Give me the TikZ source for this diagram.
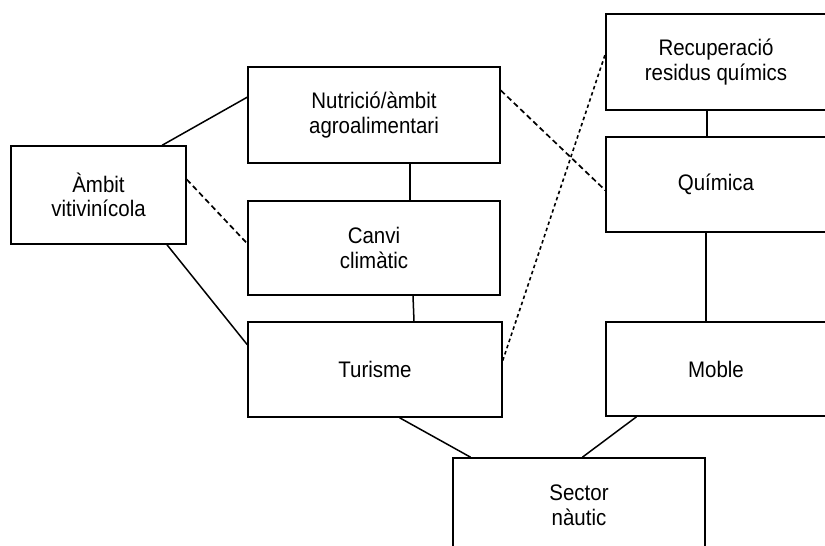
\documentclass[tikz,border=0pt]{standalone}
\usepackage{fontspec}
\setmainfont{Liberation Sans}[FakeStretch=0.91]

\begin{document}
\begin{tikzpicture}[x=1pt,y=1pt,
  box/.style={draw,line width=1.5pt,rectangle,align=center,inner sep=0pt,
    font=\fontsize{22.5}{24.5}\selectfont},
  link/.style={line width=1.5pt},
  dashlink/.style={line width=1.7pt,dash pattern=on 5.5pt off 3.5pt},
  dotlink/.style={line width=1.6pt,dash pattern=on 3.5pt off 3pt}]
        \useasboundingbox (0,0) rectangle (825,546);

        \node[box,minimum width=175pt,minimum height=98pt] (amb) at (98.5,351) {Àmbit\\vitivinícola};
        \node[box,minimum width=252pt,minimum height=96pt] (nut) at (374,431) {Nutrició/àmbit\\agroalimentari};
        \node[box,minimum width=252pt,minimum height=94pt] (can) at (374,298) {Canvi\\climàtic};
        \node[box,minimum width=254pt,minimum height=95pt] (tur) at (375,176.5) {Turisme};
        \node[box,minimum width=220pt,minimum height=96pt] (rec) at (716,484) {Recuperació\\residus químics};
        \node[box,minimum width=220pt,minimum height=95pt] (qui) at (716,361.5) {Química};
        \node[box,minimum width=220pt,minimum height=94pt] (mob) at (716,177) {Moble};
        \node[box,minimum width=252pt,minimum height=95pt] (sec) at (579,40.5) {Sector\\nàutic};

        \draw[link] (amb.38) -- (nut.172);
        \draw[dashlink] (amb.10) -- (can.178);
        \draw[link] (amb.-36) -- (tur.169);
        \draw[link] ([xshift=36pt]nut.south) -- ([xshift=36pt]can.north);
        \draw[link] ([xshift=39pt]can.south) -- ([xshift=39pt]tur.north);
        \draw[dashlink] (nut.11) -- (qui.183);
        \draw[dotlink] (tur.4) -- (rec.176);
        \draw[link] ([xshift=-9pt]rec.south) -- ([xshift=-9pt]qui.north);
        \draw[link] ([xshift=-10pt]qui.south) -- ([xshift=-10pt]mob.north);
        \draw[link] (tur.-63) -- (sec.156);
        \draw[link] (mob.211) -- (sec.86);
\end{tikzpicture}
\end{document}
